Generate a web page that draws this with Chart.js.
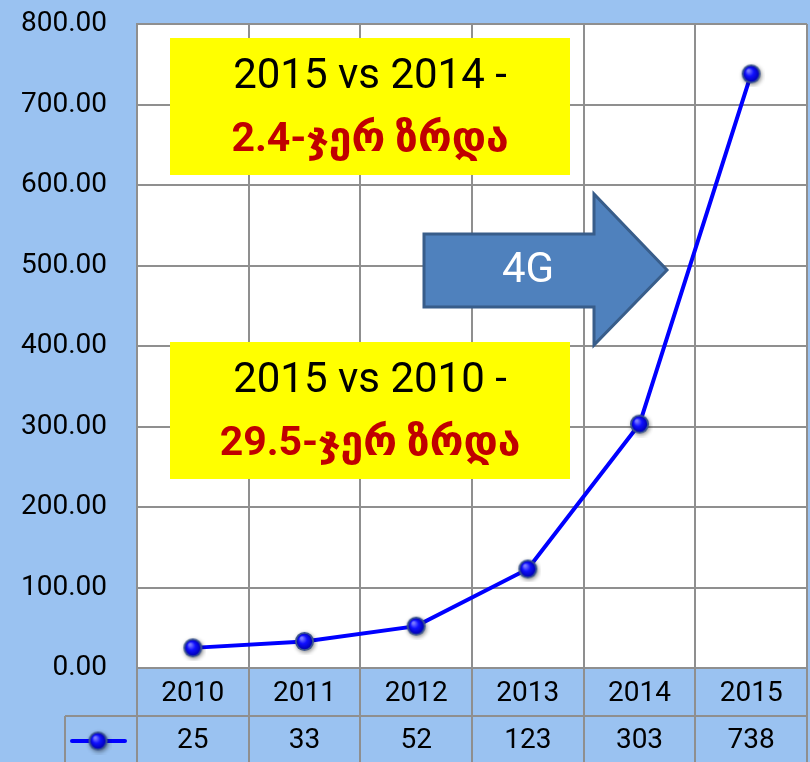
<!DOCTYPE html>
<html lang="ka">
<head>
  <meta charset="utf-8">
  <script src="https://cdn.jsdelivr.net/npm/chart.js@4.4.1/dist/chart.umd.min.js"></script>
  <title>4G growth</title>
  <style>
    html, body { margin: 0; padding: 0; background: #9AC2F1; }
    canvas { display: block; }
  </style>
</head>
<body>
<canvas id="growth-chart" width="810" height="762"></canvas>
<script>
const years = ['2010', '2011', '2012', '2013', '2014', '2015'];
const values = [25, 33, 52, 123, 303, 738];
const yTicks = [0, 100, 200, 300, 400, 500, 600, 700, 800];

const notes = [
  { top: '2015 vs 2014 -', bottom: '2.4-ჯერ ზრდა' },
  { top: '2015 vs 2010 -', bottom: '29.5-ჯერ ზრდა' }
];

const BG = '#9AC2F1';
const GRID = '#8F8F8F';
const FONT = "Roboto, 'DejaVu Sans', sans-serif";

// shaded ball used for the markers
function makeBall(r) {
  const pad = 4;
  const c = document.createElement('canvas');
  c.width = c.height = (r + pad) * 2;
  const g = c.getContext('2d');
  const m = r + pad;
  g.shadowColor = 'rgba(0,0,0,0.45)';
  g.shadowBlur = 4;
  g.shadowOffsetX = 1;
  g.shadowOffsetY = 1.5;
  g.beginPath();
  g.arc(m, m, r, 0, Math.PI * 2);
  g.fillStyle = '#3b5590';
  g.fill();
  g.shadowColor = 'transparent';
  const grad = g.createRadialGradient(m - r * 0.3, m - r * 0.35, 1, m, m, r - 1.5);
  grad.addColorStop(0, '#7a7aff');
  grad.addColorStop(0.45, '#1010ff');
  grad.addColorStop(1, '#0000b0');
  g.beginPath();
  g.arc(m, m, r - 1.8, 0, Math.PI * 2);
  g.fillStyle = grad;
  g.fill();
  return c;
}
const ball = makeBall(9.5);

function noPad(s) {
  s.paddingLeft = 0;
  s.paddingRight = 0;
  s.paddingTop = 0;
  s.paddingBottom = 0;
}

const decorPlugin = {
  id: 'decor',
  beforeDraw(chart) {
    const { ctx, chartArea: a } = chart;
    ctx.save();
    ctx.fillStyle = BG;
    ctx.fillRect(0, 0, chart.width, chart.height);
    ctx.fillStyle = '#ffffff';
    ctx.fillRect(a.left, a.top, a.right - a.left, a.bottom - a.top);
    ctx.restore();
  },
  beforeDatasetsDraw(chart) {
    const ctx = chart.ctx;
    ctx.save();
    // yellow boxes
    const boxes = [[170, 38, 400, 137], [170, 342, 400, 137]];
    boxes.forEach((b, i) => {
      ctx.fillStyle = '#FFFF00';
      ctx.fillRect(b[0], b[1], b[2], b[3]);
      const cx = b[0] + b[2] / 2;
      ctx.textAlign = 'center';
      ctx.textBaseline = 'middle';
      ctx.fillStyle = '#000000';
      ctx.font = '42px ' + FONT;
      ctx.fillText(notes[i].top, cx, b[1] + 39);
      ctx.fillStyle = '#C00000';
      ctx.font = 'bold 41px ' + FONT;
      ctx.fillText(notes[i].bottom, cx, b[1] + 103);
    });
    // 4G arrow
    ctx.beginPath();
    ctx.moveTo(424, 234);
    ctx.lineTo(594, 234);
    ctx.lineTo(594, 194);
    ctx.lineTo(667, 270);
    ctx.lineTo(594, 345);
    ctx.lineTo(594, 307);
    ctx.lineTo(424, 307);
    ctx.closePath();
    ctx.fillStyle = '#4F81BD';
    ctx.fill();
    ctx.lineWidth = 3;
    ctx.strokeStyle = '#385D8A';
    ctx.stroke();
    ctx.fillStyle = '#ffffff';
    ctx.font = '42px ' + FONT;
    ctx.textAlign = 'center';
    ctx.textBaseline = 'middle';
    ctx.fillText('4G', 528, 271);
    ctx.restore();
  },
  afterDraw(chart) {
    const { ctx, chartArea: a } = chart;
    const x = chart.scales.x;
    const half = (x.getPixelForValue(1) - x.getPixelForValue(0)) / 2;
    const rowY = 716;
    const legendLeft = 65;
    ctx.save();
    ctx.strokeStyle = GRID;
    ctx.lineWidth = 2;
    ctx.beginPath();
    for (let i = 0; i <= years.length; i++) {
      const px = Math.round(x.getPixelForValue(i) - half);
      ctx.moveTo(px, a.bottom);
      ctx.lineTo(px, chart.height);
    }
    ctx.moveTo(legendLeft, rowY);
    ctx.lineTo(a.right + 1, rowY);
    ctx.moveTo(legendLeft, rowY);
    ctx.lineTo(legendLeft, chart.height);
    ctx.stroke();

    ctx.fillStyle = '#000000';
    ctx.font = '28px ' + FONT;
    ctx.textAlign = 'center';
    ctx.textBaseline = 'middle';
    values.forEach((v, i) => {
      ctx.fillText(String(v), x.getPixelForValue(i), 741);
    });

    // legend key
    ctx.strokeStyle = '#0000FF';
    ctx.lineWidth = 4;
    ctx.lineCap = 'round';
    ctx.beginPath();
    ctx.moveTo(72, 741);
    ctx.lineTo(125, 741);
    ctx.stroke();
    ctx.drawImage(ball, 98 - ball.width / 2, 741 - ball.height / 2);
    ctx.restore();
  }
};

new Chart(document.getElementById('growth-chart'), {
  type: 'line',
  data: {
    labels: years,
    datasets: [{
      data: values,
      borderColor: '#0000FF',
      borderWidth: 4,
      pointStyle: ball,
      tension: 0
    }]
  },
  options: {
    responsive: false,
    animation: false,
    layout: { autoPadding: false, padding: { top: 24, right: 3, left: 0, bottom: 0 } },
    plugins: { legend: { display: false }, tooltip: { enabled: false } },
    scales: {
      x: {
        offset: true,
        grid: { offset: true, color: GRID, lineWidth: 2, drawTicks: false },
        border: { color: GRID, width: 2 },
        ticks: { color: '#000', font: { size: 28, family: FONT }, padding: 9, maxRotation: 0 },
        afterFit(s) { s.height = 94; noPad(s); }
      },
      y: {
        min: 0,
        max: 800,
        afterBuildTicks(s) { s.ticks = yTicks.map(v => ({ value: v })); },
        grid: { color: GRID, lineWidth: 2, drawTicks: false },
        border: { color: GRID, width: 2 },
        ticks: {
          color: '#000',
          font: { size: 28, family: FONT },
          padding: 30,
          callback: v => Number(v).toFixed(2)
        },
        afterFit(s) { s.width = 137; noPad(s); }
      }
    }
  },
  plugins: [decorPlugin]
});
</script>
</body>
</html>
